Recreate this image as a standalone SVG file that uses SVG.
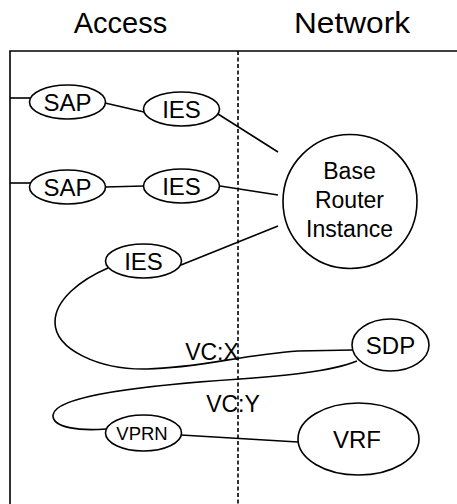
<svg xmlns="http://www.w3.org/2000/svg" width="457" height="504" viewBox="0 0 457 504">
<style>
.t{font-family:"Liberation Sans",Arial,sans-serif;fill:#000;text-anchor:middle}
.n{fill:#fff;stroke:#000;stroke-width:1.6}
.c{fill:none;stroke:#000;stroke-width:1.6}
</style>
<rect width="457" height="504" fill="#fff"/>
<g id="titles">
<text class="t" x="120.5" y="33" font-size="29">Access</text>
<text class="t" x="352" y="33" font-size="29" textLength="116" lengthAdjust="spacingAndGlyphs">Network</text>
</g>
<g id="frame">
<path class="c" d="M10,504 V51 H457" stroke-width="2"/>
</g>
<g id="connectors">
<line class="c" x1="10" y1="98" x2="30" y2="98"/>
<line class="c" x1="10" y1="183" x2="30" y2="183"/>
<line class="c" x1="105" y1="103" x2="144" y2="112"/>
<line class="c" x1="105" y1="187" x2="144" y2="186"/>
<line class="c" x1="218" y1="114" x2="278" y2="152"/>
<line class="c" x1="220" y1="186" x2="278" y2="195"/>
<line class="c" x1="181" y1="265" x2="278" y2="226"/>
<path class="c" d="M108,268 C80,280 55,300 55,322 C55,350 100,370 147,369 C200,368 240,355 298,351 L353,350"/>
<path class="c" d="M357,361 C330,372 280,376 240,379 C150,385 55,395 53,415 C52,428 80,431 106,429"/>
<line class="c" x1="181" y1="435" x2="298" y2="442"/>
</g>
<g id="sap1"><ellipse class="n" cx="67.5" cy="102" rx="38" ry="17"/><text class="t" x="67.5" y="110.5" font-size="24">SAP</text></g>
<g id="ies1"><ellipse class="n" cx="181.5" cy="109" rx="38" ry="17"/><text class="t" x="181.5" y="117.5" font-size="24">IES</text></g>
<g id="sap2"><ellipse class="n" cx="67.5" cy="187" rx="38" ry="17"/><text class="t" x="67.5" y="195.5" font-size="24">SAP</text></g>
<g id="ies2"><ellipse class="n" cx="181.5" cy="186" rx="38" ry="17"/><text class="t" x="181.5" y="194.5" font-size="24">IES</text></g>
<g id="ies3"><ellipse class="n" cx="143.5" cy="261" rx="38" ry="17"/><text class="t" x="143.5" y="269.5" font-size="24">IES</text></g>
<g id="base-router"><circle class="n" cx="350" cy="201.5" r="67"/>
<text class="t" x="349.5" y="179" font-size="23">Base</text>
<text class="t" x="349.5" y="208" font-size="23">Router</text>
<text class="t" x="349.5" y="237" font-size="23">Instance</text></g>
<g id="sdp"><ellipse class="n" cx="390.5" cy="345" rx="38.5" ry="26"/><text class="t" x="390.5" y="353.5" font-size="24">SDP</text></g>
<g id="vprn"><ellipse class="n" cx="143.5" cy="433" rx="38" ry="18"/><text class="t" x="142" y="439.5" font-size="18.5">VPRN</text></g>
<g id="vrf"><ellipse class="n" cx="358.5" cy="439" rx="60.5" ry="36"/><text class="t" x="357" y="447.5" font-size="24">VRF</text></g>
<g id="labels">
<text class="t" x="212" y="360" font-size="23">VC:X</text>
<text class="t" x="233" y="412" font-size="23">VC:Y</text>
</g>
<g id="boundary">
<line x1="238" y1="51" x2="238" y2="504" stroke="#000" stroke-width="1.6" stroke-dasharray="4,2.5"/>
</g>
</svg>
